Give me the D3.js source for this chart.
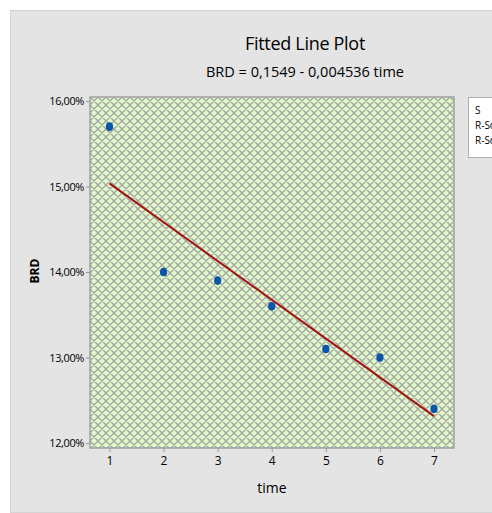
<!DOCTYPE html>
<html>
<head>
<meta charset="utf-8">
<script src="https://cdn.jsdelivr.net/npm/d3@7"></script>
<style>
  body { margin: 0; background: #fff; }
  text { font-family: "Open Sans", "Noto Sans", sans-serif; fill: #000; }
</style>
</head>
<body>
<div id="chart"></div>
<script>
const times = [1, 2, 3, 4, 5, 6, 7];
const brd = [0.157, 0.140, 0.139, 0.136, 0.131, 0.130, 0.124];
const fit = { intercept: 0.1549, slope: -0.004536 };
const yTicks = [0.12, 0.13, 0.14, 0.15, 0.16];
const legendLabels = ['S', 'R-Sq', 'R-Sq(adj)'];

const width = 492;
const height = 513;
const plot = { left: 90, right: 454, top: 97, bottom: 448 };

const svg = d3
  .select('#chart')
  .append('svg')
  .attr('width', width)
  .attr('height', height);

// outer grey panel
svg
  .append('rect')
  .attr('x', 10.5)
  .attr('y', 10.5)
  .attr('width', width)
  .attr('height', 502)
  .attr('fill', '#e4e4e4')
  .attr('stroke', '#d4d4d4');

// crosshatch fill for the data region
const cell = 8;
const defs = svg.append('defs');
const pat = defs
  .append('pattern')
  .attr('id', 'hatch')
  .attr('patternUnits', 'userSpaceOnUse')
  .attr('width', cell)
  .attr('height', cell)
  .attr('x', plot.left)
  .attr('y', plot.top);
pat.append('rect').attr('width', cell).attr('height', cell).attr('fill', '#dff9c9');
pat
  .append('path')
  .attr('d', `M0,0L${cell},${cell}M${cell},0L0,${cell}M-1,${cell - 1}L1,${cell + 1}M${cell - 1},-1L${cell + 1},1M${cell - 1},${cell + 1}L${cell + 1},${cell - 1}M-1,1L1,-1`)
  .attr('stroke', '#a6a6a6')
  .attr('stroke-width', 1.35);

const x = d3.scaleLinear().domain([0.64, 7.37]).range([plot.left, plot.right]);
const y = d3.scaleLinear().domain([0.11942, 0.16047]).range([plot.bottom, plot.top]);

svg
  .append('rect')
  .attr('x', plot.left)
  .attr('y', plot.top)
  .attr('width', plot.right - plot.left)
  .attr('height', plot.bottom - plot.top)
  .attr('fill', 'url(#hatch)')
  .attr('stroke', '#a0a0a0')
  .attr('stroke-width', 1.5);

const fmtPct = d => d3.format('.2f')(d * 100).replace('.', ',') + '%';

const yAxis = svg
  .append('g')
  .attr('transform', `translate(${plot.left},0)`)
  .call(d3.axisLeft(y).tickValues(yTicks).tickSize(4).tickPadding(2).tickFormat(fmtPct));
yAxis.select('.domain').remove();
yAxis.selectAll('line').attr('stroke', '#999');
yAxis.selectAll('text').style('font-size', '11px').style('letter-spacing', '-0.4px').attr('fill', '#000');

const xAxis = svg
  .append('g')
  .attr('transform', `translate(0,${plot.bottom})`)
  .call(d3.axisBottom(x).tickValues(times).tickSize(4).tickPadding(4).tickFormat(d3.format('d')));
xAxis.select('.domain').remove();
xAxis.selectAll('line').attr('stroke', '#999');
xAxis.selectAll('text').style('font-size', '12px').attr('fill', '#000');

// fitted regression line
const t0 = d3.min(times);
const t1 = d3.max(times);
svg
  .append('line')
  .attr('x1', x(t0))
  .attr('y1', y(fit.intercept + fit.slope * t0))
  .attr('x2', x(t1))
  .attr('y2', y(fit.intercept + fit.slope * t1))
  .attr('stroke', '#a31515')
  .attr('stroke-width', 2);

svg
  .append('g')
  .selectAll('ellipse')
  .data(times)
  .enter()
  .append('ellipse')
  .attr('cx', d => x(d))
  .attr('cy', (d, i) => y(brd[i]))
  .attr('rx', 3.6)
  .attr('ry', 4.3)
  .attr('fill', '#0a55a8');

// titles
svg
  .append('text')
  .attr('x', 305)
  .attr('y', 50)
  .attr('text-anchor', 'middle')
  .style('font-size', '18px')
  .style('letter-spacing', '-0.3px')
  .text('Fitted Line Plot');
svg
  .append('text')
  .attr('x', 305)
  .attr('y', 77)
  .attr('text-anchor', 'middle')
  .style('font-size', '14.5px')
  .text('BRD = 0,1549 - 0,004536 time');

svg
  .append('text')
  .attr('x', 272)
  .attr('y', 493)
  .attr('text-anchor', 'middle')
  .style('font-size', '14px')
  .text('time');

svg
  .append('text')
  .attr('transform', 'translate(39,271) rotate(-90)')
  .attr('text-anchor', 'middle')
  .style('font-size', '12px')
  .style('font-weight', 'bold')
  .text('BRD');

// legend box (cut off by the window edge, as in the source)
svg
  .append('rect')
  .attr('x', 468.5)
  .attr('y', 97.5)
  .attr('width', 40)
  .attr('height', 60)
  .attr('fill', '#fff')
  .attr('stroke', '#b0b0b0');
svg
  .append('g')
  .selectAll('text')
  .data(legendLabels)
  .enter()
  .append('text')
  .attr('x', 475)
  .attr('y', (d, i) => 114 + i * 15)
  .style('font-size', '10px')
  .text(d => d);
</script>
</body>
</html>
